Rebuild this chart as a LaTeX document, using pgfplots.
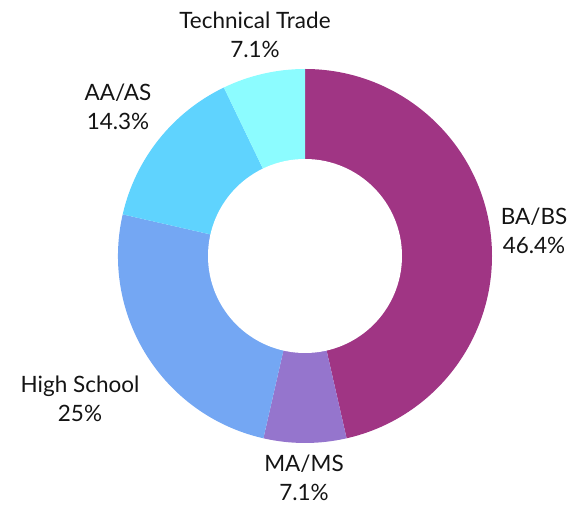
\documentclass[border=0pt]{standalone}
\usepackage{pgfplots}
\pgfplotsset{compat=1.18}
\usepackage{fontspec}
\setmainfont{Lato}
\definecolor{cBA}{RGB}{160,53,132}
\definecolor{cMA}{RGB}{149,117,205}
\definecolor{cHS}{RGB}{116,167,243}
\definecolor{cAA}{RGB}{95,211,254}
\definecolor{cTT}{RGB}{140,252,255}
\definecolor{txt}{RGB}{20,20,20}
\begin{document}
\begin{tikzpicture}
\begin{axis}[x=1pt, y=1pt, xmin=0, xmax=584, ymin=0, ymax=502,
  hide axis, clip=false]
\path (axis cs:0,0) rectangle (axis cs:584,502);
% counts: 13 of 28 BA/BS, 2 MA/MS, 7 High School, 4 AA/AS, 2 Technical Trade
\xdef\acc{0}
\foreach \v/\col in {13/cBA, 2/cMA, 7/cHS, 4/cAA, 2/cTT} {
  \pgfmathsetmacro{\sa}{90-360*\acc/28}
  \pgfmathsetmacro{\ea}{90-360*(\acc+\v)/28}
  \edef\temp{\noexpand\fill[\col] (axis cs:305,246) -- ++(\sa:187pt)
    arc[start angle=\sa, end angle=\ea, radius=187pt] -- cycle;}
  \temp
  \pgfmathsetmacro{\nacc}{\acc+\v}
  \xdef\acc{\nacc}
}
\fill[white] (axis cs:305,246) circle[radius=97pt];
\tikzset{lbl/.style={align=center, text=txt, font=\fontsize{22.5}{29}\selectfont}}
\node[lbl] at (axis cs:534,271) {BA/BS\\46.4\%};
\node[lbl] at (axis cs:304,24) {MA/MS\\7.1\%};
\node[lbl] at (axis cs:80,103) {High School\\25\%};
\node[lbl] at (axis cs:118,395) {AA/AS\\14.3\%};
\node[lbl] at (axis cs:255,467) {Technical Trade\\7.1\%};
\end{axis}
\end{tikzpicture}
\end{document}
